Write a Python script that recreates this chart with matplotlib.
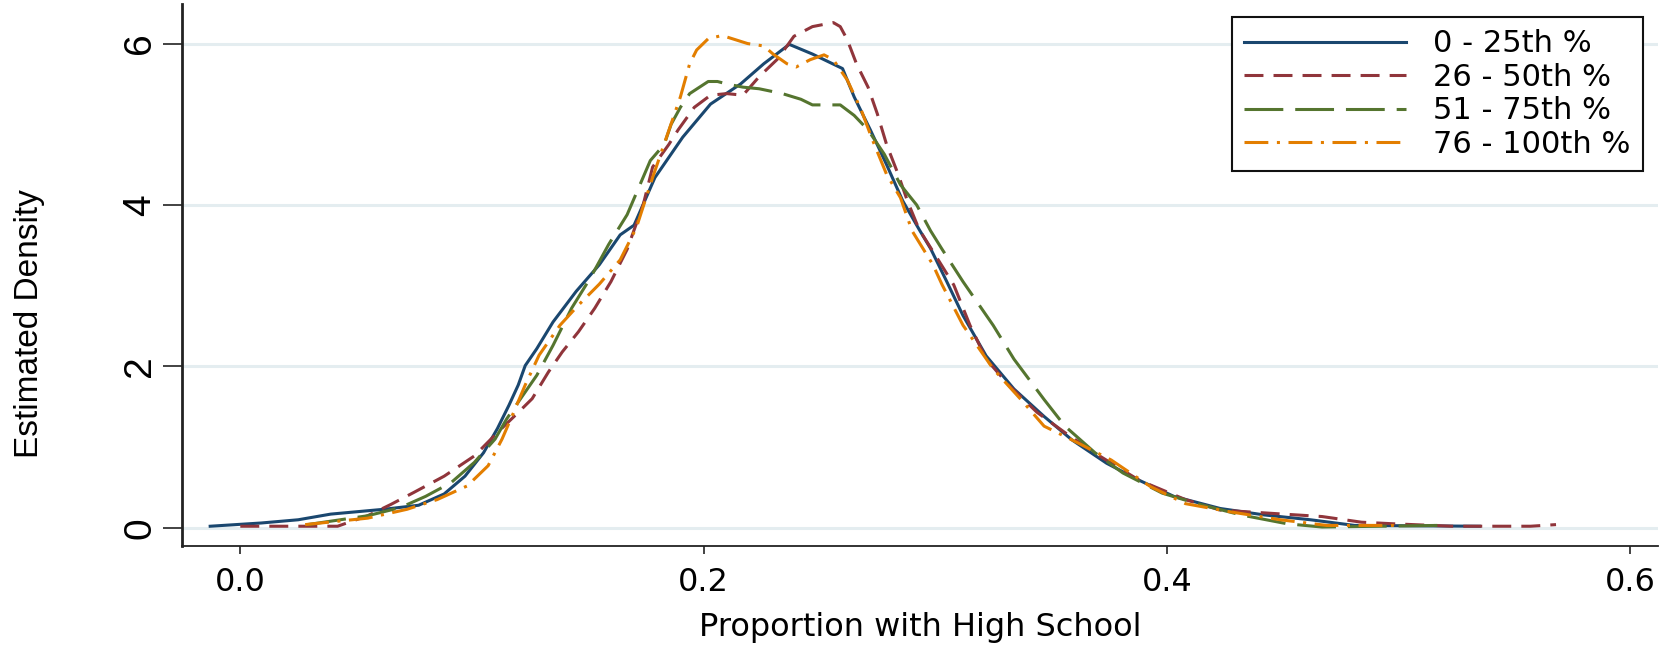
import matplotlib
matplotlib.use("Agg")
import matplotlib.pyplot as plt

# kernel density estimates, one per quartile group
x_q1 = [-0.013, 0.009, 0.025, 0.039, 0.062, 0.077, 0.088, 0.097, 0.105, 0.111, 0.116, 0.120,
        0.123, 0.128, 0.135, 0.145, 0.155, 0.164, 0.170, 0.179, 0.191, 0.203, 0.216, 0.226,
        0.237, 0.247, 0.260, 0.265, 0.272, 0.279, 0.286, 0.293, 0.298, 0.305, 0.312, 0.322,
        0.334, 0.347, 0.359, 0.374, 0.388, 0.403, 0.423, 0.442, 0.462, 0.481, 0.535]
y_q1 = [0.02, 0.06, 0.10, 0.17, 0.23, 0.28, 0.42, 0.64, 0.93, 1.23, 1.52, 1.77,
        2.01, 2.22, 2.55, 2.93, 3.26, 3.63, 3.75, 4.34, 4.84, 5.25, 5.50, 5.75,
        5.99, 5.87, 5.69, 5.34, 4.93, 4.50, 4.05, 3.70, 3.46, 3.05, 2.63, 2.13,
        1.72, 1.38, 1.09, 0.80, 0.59, 0.39, 0.24, 0.16, 0.10, 0.03, 0.02]

x_q2 = [0.000, 0.042, 0.055, 0.065, 0.075, 0.088, 0.101, 0.111, 0.120, 0.126, 0.133, 0.139,
        0.146, 0.153, 0.160, 0.167, 0.174, 0.178, 0.185, 0.189, 0.196, 0.203, 0.210, 0.217,
        0.224, 0.232, 0.239, 0.247, 0.256, 0.259, 0.262, 0.266, 0.271, 0.275, 0.279, 0.284,
        0.288, 0.293, 0.300, 0.308, 0.315, 0.322, 0.332, 0.344, 0.356, 0.371, 0.388, 0.408,
        0.423, 0.445, 0.467, 0.484, 0.498, 0.523, 0.557, 0.568]
y_q2 = [0.02, 0.02, 0.15, 0.29, 0.44, 0.64, 0.89, 1.18, 1.43, 1.60, 1.93, 2.18,
        2.43, 2.72, 3.05, 3.45, 4.01, 4.47, 4.75, 4.93, 5.21, 5.36, 5.38, 5.36,
        5.59, 5.81, 6.09, 6.21, 6.26, 6.21, 6.05, 5.75, 5.46, 5.13, 4.75, 4.38,
        4.05, 3.70, 3.38, 3.01, 2.51, 2.09, 1.76, 1.43, 1.18, 0.89, 0.59, 0.35,
        0.22, 0.18, 0.14, 0.07, 0.05, 0.02, 0.02, 0.04]

x_q3 = [0.029, 0.055, 0.069, 0.080, 0.091, 0.101, 0.110, 0.115, 0.121, 0.128, 0.135, 0.143,
        0.151, 0.159, 0.167, 0.177, 0.183, 0.186, 0.190, 0.194, 0.202, 0.206, 0.210, 0.217,
        0.224, 0.234, 0.242, 0.247, 0.259, 0.265, 0.271, 0.278, 0.285, 0.292, 0.298, 0.303,
        0.312, 0.325, 0.334, 0.347, 0.356, 0.369, 0.381, 0.398, 0.413, 0.432, 0.452, 0.467,
        0.517]
y_q3 = [0.04, 0.15, 0.25, 0.39, 0.56, 0.81, 1.10, 1.35, 1.60, 1.89, 2.26, 2.72,
        3.09, 3.51, 3.88, 4.55, 4.75, 5.00, 5.21, 5.38, 5.53, 5.53, 5.50, 5.46,
        5.44, 5.38, 5.31, 5.24, 5.24, 5.11, 4.93, 4.63, 4.25, 4.00, 3.68, 3.45,
        3.05, 2.51, 2.09, 1.59, 1.26, 0.93, 0.68, 0.43, 0.30, 0.16, 0.05, 0.01,
        0.03]

x_q4 = [0.028, 0.055, 0.072, 0.085, 0.098, 0.107, 0.113, 0.118, 0.123, 0.129, 0.138, 0.146,
        0.155, 0.164, 0.171, 0.178, 0.184, 0.190, 0.194, 0.197, 0.202, 0.208, 0.219, 0.226,
        0.230, 0.236, 0.240, 0.246, 0.252, 0.256, 0.262, 0.268, 0.273, 0.279, 0.285, 0.290,
        0.299, 0.303, 0.312, 0.325, 0.337, 0.347, 0.359, 0.376, 0.393, 0.408, 0.427, 0.449,
        0.469, 0.498]
y_q4 = [0.04, 0.12, 0.23, 0.35, 0.52, 0.77, 1.10, 1.43, 1.77, 2.14, 2.51, 2.76,
        3.02, 3.32, 3.72, 4.34, 4.84, 5.34, 5.75, 5.92, 6.06, 6.10, 6.00, 5.97,
        5.87, 5.75, 5.71, 5.80, 5.86, 5.80, 5.55, 5.18, 4.80, 4.38, 4.09, 3.68,
        3.26, 3.01, 2.51, 1.97, 1.59, 1.26, 1.09, 0.84, 0.51, 0.30, 0.20, 0.10,
        0.03, 0.03]

labels = ["0 - 25th %", "26 - 50th %", "51 - 75th %", "76 - 100th %"]
xticks = [0.0, 0.2, 0.4, 0.6]
xtick_labels = ["0.0", "0.2", "0.4", "0.6"]
yticks = [0, 2, 4, 6]

narrow = ["Liberation Sans Narrow", "Liberation Sans", "DejaVu Sans"]

fig = plt.figure(figsize=(16.73, 6.47), dpi=100)
ax = fig.add_axes([0.1086, 0.1561, 0.8824, 0.8377])

lw = 2.2
ax.plot(x_q1, y_q1, color="#1a476f", lw=lw, label=labels[0])
ax.plot(x_q2, y_q2, color="#90353b", lw=lw, dashes=(6.2, 3.3), label=labels[1])
ax.plot(x_q3, y_q3, color="#55752f", lw=lw, dashes=(12.7, 3.9), label=labels[2])
ax.plot(x_q4, y_q4, color="#e37e00", lw=lw, dashes=(7.8, 2.8, 1.0, 2.8), label=labels[3])

ax.set_xlim(-0.0253, 0.612)
ax.set_ylim(-0.225, 6.49)

for y in yticks:
    ax.axhline(y, color="#e4edf0", lw=2.2, zorder=0)

ax.spines["top"].set_visible(False)
ax.spines["right"].set_visible(False)
ax.spines["left"].set_linewidth(2.0)
ax.spines["bottom"].set_linewidth(1.3)
ax.spines["left"].set_color("#222222")
ax.spines["bottom"].set_color("#222222")

ax.set_xticks(xticks)
ax.set_xticklabels(xtick_labels, fontsize=23, family="DejaVu Sans")
ax.set_yticks(yticks)
ax.set_yticklabels([str(v) for v in yticks], fontsize=28, family=narrow,
                   rotation=90, va="center")
ax.tick_params(axis="x", length=6, width=1.2, pad=9, color="#222222")
ax.tick_params(axis="y", length=14, width=1.2, pad=3, color="#222222")

fig.text(920 / 1673, 0.03, "Proportion with High School", ha="center", va="center",
         fontsize=23, family="DejaVu Sans")
fig.text(30 / 1673, 0.5, "Estimated Density", rotation=90, ha="center", va="center",
         fontsize=24, family=narrow)

leg = ax.legend(loc="upper right", bbox_to_anchor=(1643 / 1673, 1 - 17 / 647),
                bbox_transform=fig.transFigure, borderaxespad=0, fancybox=False,
                edgecolor="#111111", framealpha=1, prop={"family": "DejaVu Sans", "size": 22},
                handlelength=5.3, handletextpad=0.9, labelspacing=0.15, borderpad=0.4)
leg.get_frame().set_linewidth(1.5)

fig.savefig("out.png", dpi=100)
